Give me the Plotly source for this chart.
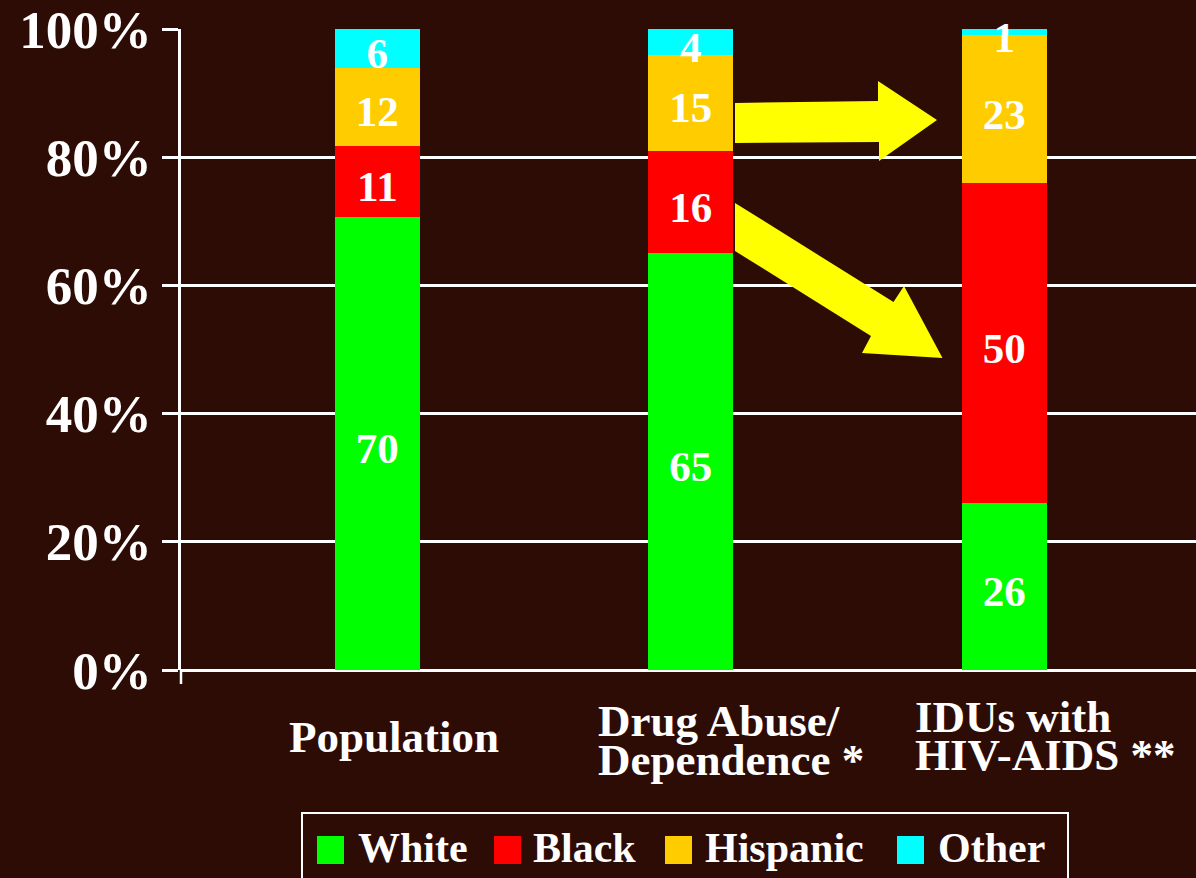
import plotly.graph_objects as go

# ---- data ----
categories = ["Population", "Drug Abuse/ Dependence *", "IDUs with HIV-AIDS **"]
label_lines = [["Population"], ["Drug Abuse/", "Dependence *"], ["IDUs with", "HIV-AIDS **"]]
series_names = ["White", "Black", "Hispanic", "Other"]
white_vals = [70, 65, 26]
black_vals = [11, 16, 50]
hispanic_vals = [12, 15, 23]
other_vals = [6, 4, 1]
series_colors = ["#00FF00", "#FF0000", "#FFCC00", "#00FFFF"]
y_ticks = [0, 20, 40, 60, 80, 100]

BG = "#2D0C05"
FONT = "Liberation Serif"
W, H = 1196, 878
L, R, T, B = 181, 0, 29, 208
PW, PH = W - L - R, H - T - B


def px(x):
    return (x - L) / PW


def py(y):
    return (H - B - y) / PH


all_series = [white_vals, black_vals, hispanic_vals, other_vals]
totals = [sum(s[i] for s in all_series) for i in range(len(categories))]

fig = go.Figure()
xpos = [0, 1, 2]
for name, vals, col in zip(series_names, all_series, series_colors):
    fig.add_trace(go.Bar(
        x=xpos, y=vals, name=name, marker=dict(color=col, line=dict(width=0)),
        width=0.271, textposition="none",
        showlegend=False, hoverinfo="skip",
    ))

# value labels centred in each (normalised) segment, nudged ~9 px down
nudge = 9 / PH * 100
lab_x, lab_y, lab_t = [], [], []
for i in range(len(categories)):
    cum = 0
    for s in all_series:
        v = s[i]
        lab_x.append(xpos[i])
        lab_y.append((cum + v / 2) / totals[i] * 100 - nudge)
        lab_t.append(str(v))
        cum += v
fig.add_trace(go.Scatter(
    x=lab_x, y=lab_y, text=lab_t, mode="text", textposition="middle center",
    textfont=dict(family=FONT, size=43, color="white", weight="bold"),
    cliponaxis=False, showlegend=False, hoverinfo="skip",
))

fig.update_layout(
    barmode="stack", barnorm="percent",
    width=W, height=H, margin=dict(l=L, r=R, t=T, b=B),
    paper_bgcolor=BG, plot_bgcolor=BG,
    xaxis=dict(range=[-0.6263, 2.6114], showticklabels=False, showgrid=False,
               zeroline=False, showline=False, ticks=""),
    yaxis=dict(range=[0, 100], tickvals=y_ticks, ticktext=[f"{v}%" for v in y_ticks],
               showgrid=True, gridcolor="white", gridwidth=2.5,
               zeroline=True, zerolinecolor="white", zerolinewidth=2.5,
               showline=True, linecolor="white", linewidth=2.5,
               ticks="outside", ticklen=16, tickwidth=2.5, tickcolor="white",
               ticklabelstandoff=0,
               tickfont=dict(family=FONT, size=53, color="white", weight="bold")),
)

shapes = []
# axis line extension below zero
shapes.append(dict(type="line", xref="paper", yref="paper", x0=0, x1=0,
                   y0=0, y1=py(684), line=dict(color="white", width=2.5)))

# arrows
arrow1 = [(735, 103), (878, 101), (878, 81), (937, 120), (879, 161), (879, 142), (735, 143)]
arrow2 = [(735, 203), (893.5, 302), (904, 286), (942.5, 358), (862, 353), (871, 336), (735, 251)]
for poly in (arrow1, arrow2):
    path = "M" + " L".join(f"{px(a):.5f},{py(b):.5f}" for a, b in poly) + " Z"
    shapes.append(dict(type="path", xref="paper", yref="paper", path=path,
                       fillcolor="#FFFF00", line=dict(width=0), layer="above"))

# legend box
shapes.append(dict(type="rect", xref="paper", yref="paper", x0=px(302), x1=px(1068),
                   y0=py(813), y1=py(895), line=dict(color="white", width=2),
                   fillcolor="rgba(0,0,0,0)"))
leg_sq_x = [317, 494, 665, 897]
leg_tx_x = [356, 531, 703, 936]
for name, col, sx, tx in zip(series_names, series_colors, leg_sq_x, leg_tx_x):
    shapes.append(dict(type="rect", xref="paper", yref="paper", x0=px(sx), x1=px(sx + 27),
                       y0=py(836), y1=py(864), line=dict(width=0), fillcolor=col))

annotations = []
for name, tx in zip(series_names, leg_tx_x):
    annotations.append(dict(text=name, xref="paper", yref="paper", x=px(tx), y=py(848),
                            xanchor="left", yanchor="middle", showarrow=False,
                            font=dict(family=FONT, size=42, color="white", weight="bold")))

# category labels
label_left = [287, 596, 913]
label_mid_y = [[737], [720.5, 759.5], [716.5, 755]]
for lines, lx, ys in zip(label_lines, label_left, label_mid_y):
    for line, yy in zip(lines, ys):
        annotations.append(dict(text=line, xref="paper", yref="paper", x=px(lx), y=py(yy),
                                xanchor="left", yanchor="middle", showarrow=False,
                                font=dict(family=FONT, size=45, color="white", weight="bold")))

fig.update_layout(shapes=shapes, annotations=annotations)
fig.write_html("out.html")
